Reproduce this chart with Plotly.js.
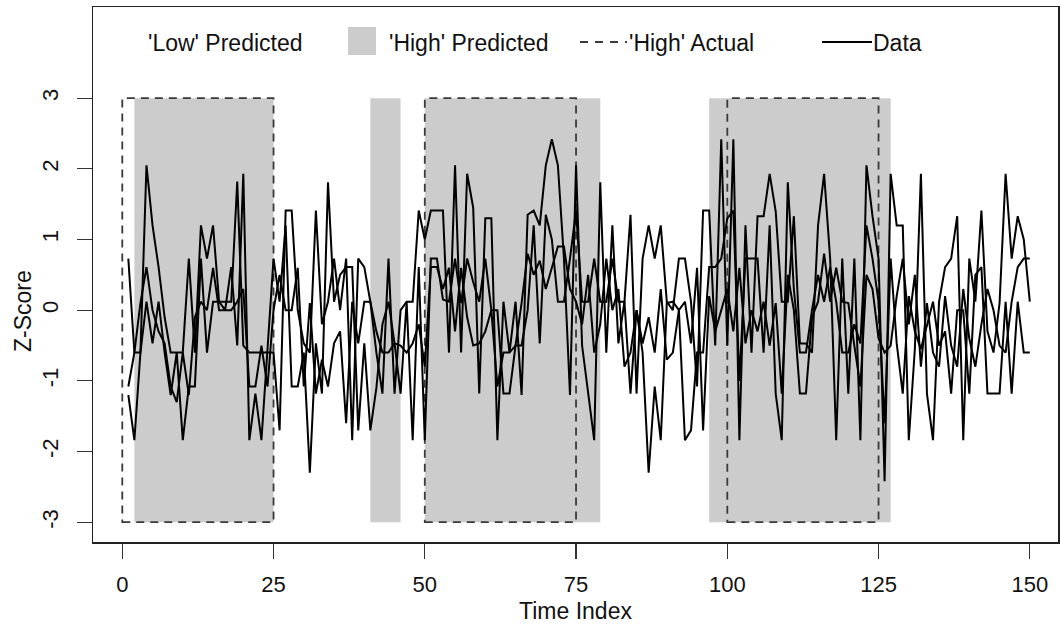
<!DOCTYPE html>
<html>
<head>
<meta charset="utf-8">
<script src="https://cdn.plot.ly/plotly-3.0.1.min.js"></script>
<style>html,body{margin:0;padding:0;background:#fff;}#chart{width:1060px;height:627px;}</style>
</head>
<body>
<div id="chart"></div>
<script>
// ---- data ----
var timeIndex = [];
for (var i = 1; i <= 150; i++) timeIndex.push(i);

var seriesA = [
 0.73,-0.6,-0.6,2.05,1.2,0.61,-0.1,-0.6,-0.6,-0.6,
 0.73,-0.6,1.2,0.73,1.2,0.12,0.12,0.12,1.82,-0.5,
 -0.6,-0.6,-0.6,-0.6,-0.6,-1.7,1.41,1.41,0.0,-0.47,
 -0.6,1.41,-0.2,0.12,0.73,0.0,0.73,-1.84,0.73,0.61,
 0.12,-0.6,-1.18,0.73,-1.18,0.0,0.12,0.12,1.41,1.0,
 1.41,1.41,1.41,-0.6,2.05,-0.6,1.93,1.45,-1.18,1.3,
 1.3,-1.84,0.12,-0.6,0.12,-1.2,1.35,1.41,1.2,2.05,
 2.42,2.05,0.73,-1.2,2.05,-0.5,-1.18,-1.84,1.81,-0.6,
 1.2,-0.47,0.12,1.35,-1.18,0.73,1.2,0.73,1.2,0.12,
 0.0,0.73,0.73,0.12,-1.08,1.41,1.41,-0.5,2.42,-0.5,
 2.42,-1.84,1.2,-0.6,1.33,1.33,1.93,1.4,0.12,0.12,
 1.33,-0.47,-0.47,-0.6,1.2,1.93,0.73,-1.84,0.73,-1.18,
 0.73,-1.84,2.05,1.33,0.73,-2.42,1.93,1.2,1.2,-1.84,
 -0.55,1.93,-1.18,-1.84,0.12,0.61,0.73,1.33,-1.84,0.73,
 0.12,1.41,-0.3,-0.6,0.1,1.93,0.73,1.33,1.0,0.12
];
var seriesB = [
 -1.2,-1.84,-0.6,0.12,-0.47,0.12,-0.6,-1.2,-0.6,-1.84,
 -1.08,-1.08,0.73,-0.6,0.12,0.12,0.0,0.61,-0.5,1.93,
 -1.84,-1.18,-1.84,-0.47,0.73,0.12,1.2,-1.08,-1.08,-0.6,
 -2.3,-0.47,-1.18,1.81,0.12,0.5,0.61,0.61,-1.7,-0.47,
 -1.7,-1.1,-0.2,0.12,-0.47,-1.18,0.12,-1.84,0.61,-1.84,
 0.73,0.73,0.15,0.12,0.73,0.1,0.73,0.4,0.12,0.73,
 0.0,0.0,-1.18,-1.18,-0.5,-0.5,0.0,1.2,-0.47,1.35,
 1.0,0.12,0.12,0.73,1.41,0.12,0.12,0.73,0.12,0.12,
 0.73,0.12,0.12,-1.18,0.0,-0.6,-2.3,-1.08,-1.84,0.1,
 0.12,0.0,-1.84,-1.7,-0.6,-0.6,0.61,0.61,0.73,1.3,
 1.41,-1.0,0.73,0.73,0.73,-0.6,1.2,-1.18,-1.84,1.81,
 0.3,-0.6,-0.6,0.0,0.5,0.12,0.61,0.12,-0.6,-0.6,
 -0.2,-0.47,1.2,0.73,0.12,-1.6,0.73,-0.47,-1.18,0.2,
 -0.3,-0.55,-0.2,0.12,-0.5,-0.3,-1.18,0.0,0.0,-1.18,
 0.5,0.61,-1.18,-1.18,-1.18,0.12,-1.18,0.12,-0.6,-0.6
];
var seriesC = [
 -1.08,-0.6,0.1,0.61,0.0,-0.3,-0.47,-1.08,-1.3,-0.6,
 -1.2,-0.1,0.12,0.0,0.6,0.0,0.0,0.0,0.12,0.3,
 -1.08,-1.08,-0.5,-1.08,0.0,0.5,0.0,0.0,0.6,-1.08,
 0.1,-1.18,-0.7,-1.08,-0.47,-0.3,-1.6,0.12,-0.47,0.12,
 0.12,-0.3,-0.6,-0.6,-0.47,-0.5,-0.6,-0.47,-0.2,-0.8,
 0.61,0.61,0.3,0.6,-0.3,0.6,-0.1,-0.5,-0.47,-0.3,
 0.0,-1.08,-0.6,-0.6,-0.5,0.1,0.8,0.5,0.7,0.3,
 0.6,0.9,0.9,0.3,0.12,-0.2,0.5,-0.6,-0.2,0.73,
 0.0,0.3,-0.8,-0.6,0.0,-0.47,-0.1,-0.6,0.3,-0.7,
 -0.6,0.0,0.12,-0.47,0.6,-1.7,0.2,-0.3,0.0,0.3,
 -0.3,0.6,-0.47,0.0,-0.3,0.12,-0.5,0.1,-1.18,0.5,
 0.0,-1.18,-1.18,-0.1,0.12,0.8,0.12,0.6,0.12,0.1,
 -0.5,-1.08,0.5,0.3,-0.4,-0.6,-0.5,0.2,0.73,-0.2,
 0.5,-0.8,0.1,-0.6,-0.8,0.2,-0.5,-0.8,0.3,-0.4,
 -0.8,-0.2,0.3,0.0,-0.5,-0.6,0.12,0.61,0.73,0.73
];

var highPredStart = [2, 41, 50, 97];
var highPredEnd   = [25, 46, 79, 127];
var highActStart  = [0, 50, 100];
var highActEnd    = [25, 75, 125];
var zLow = -3, zHigh = 3;

var xTicks = [0, 25, 50, 75, 100, 125, 150];
var yTicks = [-3, -2, -1, 0, 1, 2, 3];
var legendLabels = ["'Low' Predicted", "'High' Predicted", "'High' Actual", "Data"];

// ---- layout helpers (pixel geometry) ----
var W = 1060, H = 627;
var mL = 93, mR = 2, mT = 7, mB = 85;
var pw = W - mL - mR, ph = H - mT - mB;
function pxX(px){ return (px - mL) / pw; }
function pxY(py){ return (H - mB - py) / ph; }

var FONT = 'Liberation Sans, Arial, Helvetica, sans-serif';

var traces = [seriesA, seriesB, seriesC].map(function(s){
  return {x: timeIndex, y: s, type: 'scatter', mode: 'lines',
          line: {color: '#000', width: 2}, showlegend: false, hoverinfo: 'skip'};
});

var shapes = [];
for (var k = 0; k < highPredStart.length; k++) {
  shapes.push({type: 'rect', xref: 'x', yref: 'y', x0: highPredStart[k], x1: highPredEnd[k],
    y0: zLow, y1: zHigh, fillcolor: '#cccccc', line: {width: 0}, layer: 'below'});
}
for (var k = 0; k < highActStart.length; k++) {
  shapes.push({type: 'rect', xref: 'x', yref: 'y', x0: highActStart[k], x1: highActEnd[k],
    y0: zLow, y1: zHigh, fillcolor: 'rgba(0,0,0,0)', line: {color: '#3a3a3a', width: 1.8, dash: '8px,6px'}, layer: 'below'});
}
// legend keys
var legY = 42;
shapes.push({type: 'rect', xref: 'paper', yref: 'paper', x0: pxX(348), x1: pxX(376), y0: pxY(55), y1: pxY(27),
  fillcolor: '#cccccc', line: {width: 0}});
shapes.push({type: 'line', xref: 'paper', yref: 'paper', x0: pxX(580), x1: pxX(627), y0: pxY(legY), y1: pxY(legY),
  line: {color: '#3a3a3a', width: 1.8, dash: '8px,7px'}});
shapes.push({type: 'line', xref: 'paper', yref: 'paper', x0: pxX(822), x1: pxX(872), y0: pxY(legY), y1: pxY(legY),
  line: {color: '#000', width: 2}});

var legX = [146, 387, 627, 871];
var annotations = legendLabels.map(function(t, i){
  return {text: t, xref: 'paper', yref: 'paper', x: pxX(legX[i]), y: pxY(legY + 1),
    xanchor: 'left', yanchor: 'middle', showarrow: false,
    font: {family: FONT, size: 23, color: '#111'}};
});
// y-axis title placed as rotated text in the left margin
annotations.push({text: 'Z-Score', xref: 'paper', yref: 'paper', x: pxX(23), y: pxY(311),
  xanchor: 'center', yanchor: 'middle', textangle: -90, showarrow: false,
  font: {family: FONT, size: 23, color: '#111'}});

var layout = {
  width: W, height: H,
  margin: {l: mL, r: mR, t: mT, b: mB, pad: 0},
  paper_bgcolor: '#fff', plot_bgcolor: '#fff',
  font: {family: FONT, size: 22, color: '#111'},
  showlegend: false,
  xaxis: {
    range: [-4.84, 154.66], tickmode: 'array', tickvals: xTicks, ticktext: xTicks.map(String),
    ticks: 'outside', ticklen: 15, tickwidth: 1.2, tickcolor: '#333',
    showline: true, mirror: true, linecolor: '#222', linewidth: 1.5,
    showgrid: false, zeroline: false, ticklabelstandoff: 7,
    tickfont: {family: FONT, size: 22, color: '#111'},
    title: {text: 'Time Index', font: {family: FONT, size: 23, color: '#111'}, standoff: 7}
  },
  yaxis: {
    range: [-3.28, 4.29], tickmode: 'array', tickvals: yTicks, ticktext: yTicks.map(String),
    tickangle: -90, ticklabelstandoff: 10,
    ticks: 'outside', ticklen: 15, tickwidth: 1.2, tickcolor: '#333',
    showline: true, mirror: true, linecolor: '#222', linewidth: 1.5,
    showgrid: false, zeroline: false,
    tickfont: {family: FONT, size: 22, color: '#111'}
  },
  shapes: shapes,
  annotations: annotations
};

Plotly.newPlot('chart', traces, layout, {staticPlot: true, displayModeBar: false});
</script>
</body>
</html>
